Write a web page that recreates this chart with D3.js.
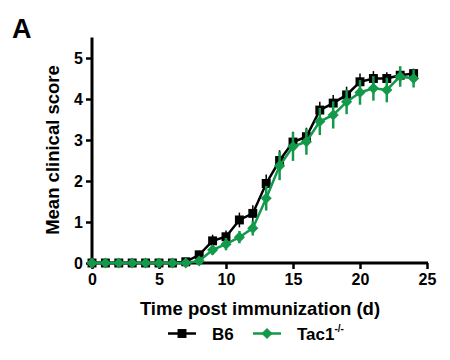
<!DOCTYPE html>
<html>
<head>
<meta charset="utf-8">
<script src="https://cdn.jsdelivr.net/npm/d3@7"></script>
<style>
  body { margin: 0; background: #fff; }
  svg { font-family: "Liberation Sans", Arial, sans-serif; font-weight: bold; }
</style>
</head>
<body>
<div id="chart"></div>
<script>
const days = d3.range(0, 25);
const b6 = [0, 0, 0, 0, 0, 0, 0, 0.03, 0.2, 0.54, 0.64, 1.05, 1.21, 1.94, 2.5, 2.95, 3.08, 3.73, 3.9, 4.1, 4.42, 4.5, 4.5, 4.58, 4.62];
const b6Err = [0, 0, 0, 0, 0, 0, 0, 0.03, 0.1, 0.15, 0.15, 0.18, 0.2, 0.22, 0.25, 0.25, 0.22, 0.2, 0.2, 0.2, 0.2, 0.18, 0.15, 0.15, 0.12];
const tac1 = [0, 0, 0, 0, 0, 0, 0, 0, 0.05, 0.32, 0.46, 0.63, 0.85, 1.58, 2.37, 2.84, 2.96, 3.45, 3.61, 3.93, 4.16, 4.26, 4.22, 4.55, 4.5];
const tac1Err = [0, 0, 0, 0, 0, 0, 0, 0, 0.06, 0.12, 0.15, 0.15, 0.18, 0.3, 0.35, 0.35, 0.32, 0.33, 0.33, 0.3, 0.3, 0.3, 0.3, 0.25, 0.22];
const xTicks = [0, 5, 10, 15, 20, 25];
const yTicks = [0, 1, 2, 3, 4, 5];

const w = 450, h = 360;
const green = "#13994a";
const svg = d3.select("#chart").append("svg").attr("width", w).attr("height", h);

const x = d3.scaleLinear().domain([0, 25]).range([92, 427]);
const y = d3.scaleLinear().domain([0, 5.5]).range([263, 37.5]);

// axes
const xAxis = svg.append("g").attr("transform", "translate(0,263)")
  .call(d3.axisBottom(x).tickValues(xTicks).tickFormat(d3.format("d")).tickSize(6).tickPadding(5).tickSizeOuter(0));
const yAxis = svg.append("g").attr("transform", "translate(92,0)")
  .call(d3.axisLeft(y).tickValues(yTicks).tickFormat(d3.format("d")).tickSize(6).tickPadding(3).tickSizeOuter(0));
[xAxis, yAxis].forEach((a) => {
  a.select(".domain").attr("stroke", "#000").attr("stroke-width", 3);
  a.selectAll(".tick line").attr("stroke", "#000").attr("stroke-width", 2.5);
  a.selectAll(".tick text").attr("fill", "#000").style("font-size", "16px").style("font-weight", "bold").style("font-family", "Liberation Sans, Arial, sans-serif");
});
xAxis.select(".domain").attr("d", "M90.5,0H428");
yAxis.select(".domain").attr("d", "M0,37.5V264.5");

// series
const series = [
  { vals: b6, err: b6Err, color: "#000", rot: 0, size: 80, eb: 1.5 },
  { vals: tac1, err: tac1Err, color: green, rot: 45, size: 62, eb: 2.5 },
];
const line = d3.line().x((d, i) => x(days[i])).y((d) => y(d));
series.forEach((s) => {
  const g = svg.append("g");
  g.selectAll("line.err").data(s.vals).enter().append("line")
    .attr("x1", (d, i) => x(days[i])).attr("x2", (d, i) => x(days[i]))
    .attr("y1", (d, i) => y(d + s.err[i])).attr("y2", (d, i) => y(d - s.err[i]))
    .attr("stroke", s.color).attr("stroke-width", s.eb);
  g.append("path").datum(s.vals).attr("d", line)
    .attr("fill", "none").attr("stroke", s.color).attr("stroke-width", 2.5);
  g.selectAll("path.pt").data(s.vals).enter().append("path")
    .attr("d", d3.symbol().type(d3.symbolSquare).size(s.size))
    .attr("transform", (d, i) => `translate(${x(days[i])},${y(d)}) rotate(${s.rot})`)
    .attr("fill", s.color);
});

// labels
svg.append("text").attr("x", 12).attr("y", 38).text("A").style("font-size", "27px");
svg.append("text").attr("transform", "translate(58.5,150) rotate(-90)")
  .attr("text-anchor", "middle").style("font-size", "18.5px").text("Mean clinical score");
svg.append("text").attr("x", 260).attr("y", 315).attr("text-anchor", "middle")
  .style("font-size", "18.5px").text("Time post immunization (d)");

// legend
const legend = [
  { label: "B6", color: "#000", rot: 0, size: 80, x: 168 },
  { label: "Tac1", sup: "-/-", color: green, rot: 45, size: 62, x: 253 },
];
legend.forEach((l) => {
  const g = svg.append("g").attr("transform", `translate(${l.x},333.5)`);
  g.append("line").attr("x1", 0).attr("x2", 28).attr("stroke", l.color).attr("stroke-width", 2.5);
  g.append("path").attr("d", d3.symbol().type(d3.symbolSquare).size(l.size))
    .attr("transform", `translate(14,0) rotate(${l.rot})`).attr("fill", l.color);
  const t = g.append("text").attr("x", 44).attr("y", 6.5).style("font-size", "17px").text(l.label);
  if (l.sup) t.append("tspan").attr("dy", -8).style("font-size", "10px").text(l.sup);
});
</script>
</body>
</html>
